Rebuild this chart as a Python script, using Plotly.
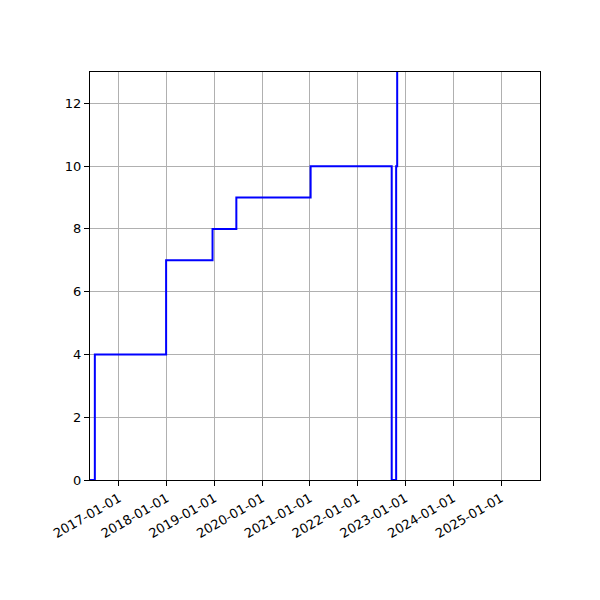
import plotly.graph_objects as go

dates = ["2016-05-01", "2016-07-01", "2017-12-28", "2018-12-18", "2019-06-18",
         "2021-01-06", "2022-09-18", "2022-10-22", "2022-10-30"]
values = [0, 4, 7, 8, 9, 10, 0, 10, 20]

fig = go.Figure()
fig.add_trace(go.Scatter(x=dates, y=values, mode="lines", line_shape="hv",
                         line=dict(color="blue", width=2), showlegend=False))

axis_common = dict(showline=True, mirror=True, linecolor="black", linewidth=1,
                   showgrid=True, gridcolor="#b0b0b0", gridwidth=1,
                   ticks="outside", ticklen=5, tickcolor="black", zeroline=False,
                   tickfont=dict(family="DejaVu Sans", size=13, color="black"))

fig.update_xaxes(range=["2016-05-25", "2025-10-26"], type="date",
                 tick0="2017-01-01", dtick="M12", tickformat="%Y-%m-%d",
                 tickangle=-30, **axis_common)
fig.update_yaxes(range=[0, 13], tick0=0, dtick=2, **axis_common)

fig.update_layout(width=600, height=600, plot_bgcolor="white", paper_bgcolor="white",
                  margin=dict(l=82, r=68, t=64, b=128), autosize=False)

fig.write_html("out.html")
